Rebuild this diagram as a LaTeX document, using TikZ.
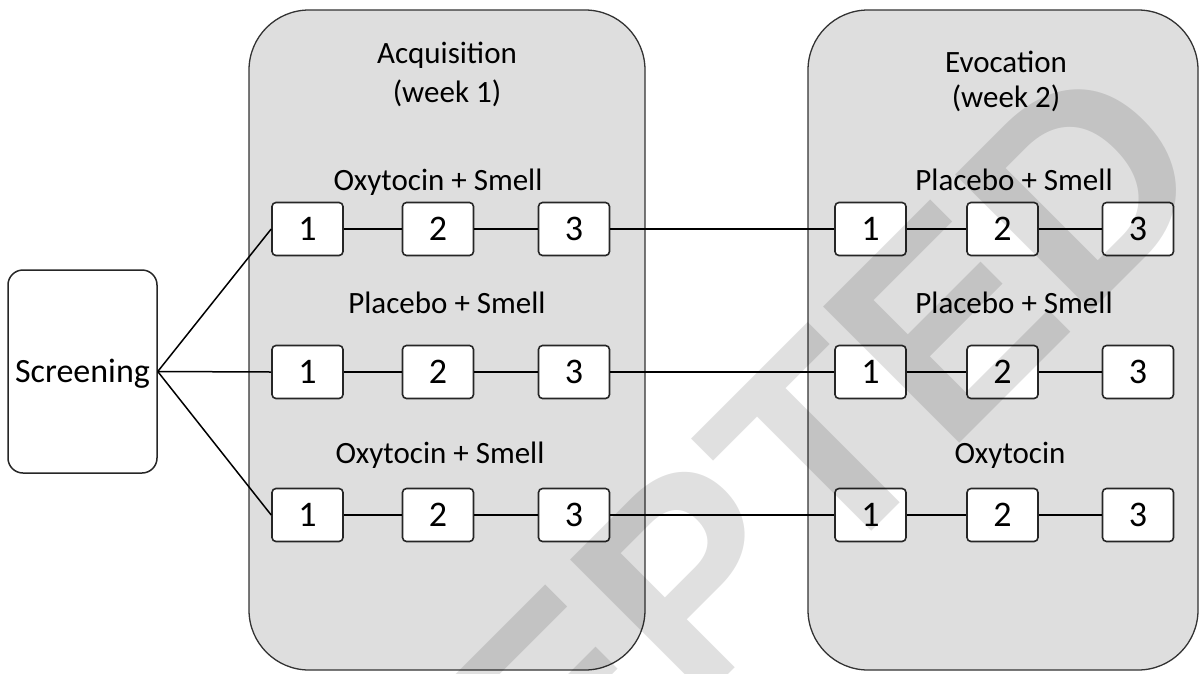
\documentclass[tikz,border=0pt]{standalone}
\usepackage{fontspec}
\setmainfont{Carlito}
\newfontfamily\wmfont{Liberation Sans}
\begin{document}
\begin{tikzpicture}[x=1pt,y=-1pt,
  phase/.style={draw=black!80, line width=1.3pt, fill=black!13, rounded corners=60pt, inner sep=0pt},
  screenbox/.style={draw=black!85, line width=1.5pt, fill=white, rounded corners=15pt, inner sep=0pt, minimum width=149pt, minimum height=203pt, font=\fontsize{34}{40}\selectfont, text height=21.9pt, text depth=0pt},
  sess/.style={draw=black!85, line width=1.6pt, fill=white, rounded corners=4pt, minimum width=71pt, minimum height=53pt, inner sep=0pt, font=\fontsize{36}{40}\selectfont, text height=22.8pt, text depth=0pt},
  lbl/.style={font=\fontsize{31}{36}\selectfont, inner sep=0pt, anchor=base},
  conn/.style={line width=1.5pt, draw=black}]
\useasboundingbox (0,0) rectangle (1199,673);
\clip (0,0) rectangle (1199,673);
\fill[white] (0,0) rectangle (1199,673);

% phase panels
\node[phase, minimum width=396pt, minimum height=660pt] (acq) at (447,340) {};
\node[phase, minimum width=390pt, minimum height=660pt] (evo) at (1003,340) {};

% titles
\node[lbl] (acqT) at (447,63) {Acquisition};
\node[lbl] (acqW) at (447,102) {(week 1)};
\node[lbl] (evoT) at (1006,72) {Evocation};
\node[lbl] (evoW) at (1006,107) {(week 2)};

% row labels
\node[lbl] (aL1) at (438,190) {Oxytocin + Smell};
\node[lbl] (aL2) at (447,313) {Placebo + Smell};
\node[lbl] (aL3) at (440,463) {Oxytocin + Smell};
\node[lbl] (eL1) at (1014,190) {Placebo + Smell};
\node[lbl] (eL2) at (1014,313) {Placebo + Smell};
\node[lbl] (eL3) at (1010,463) {Oxytocin};

% screening
\node[screenbox] (scr) at (82.5,371.5) {Screening};

% sessions
\foreach \r/\y in {1/229,2/372,3/515}{
  \node[sess] (a\r1) at (307.5,\y) {1};
  \node[sess] (a\r2) at (438,\y) {2};
  \node[sess] (a\r3) at (574,\y) {3};
  \node[sess] (e\r1) at (870.5,\y) {1};
  \node[sess] (e\r2) at (1002.5,\y) {2};
  \node[sess] (e\r3) at (1138,\y) {3};
}

% connectors
\foreach \r in {1,2,3}{
  \draw[conn] (scr.east) -- (a\r1.west);
  \draw[conn] (a\r1) -- (a\r2);
  \draw[conn] (a\r2) -- (a\r3);
  \draw[conn] (a\r3) -- (e\r1);
  \draw[conn] (e\r1) -- (e\r2);
  \draw[conn] (e\r2) -- (e\r3);
}

% watermark
\node[font=\fontsize{280}{280}\selectfont\wmfont\bfseries, text=black, text opacity=0.12, rotate=45, inner sep=0pt] (wm) at (609,658) {ACCEPTED};
\end{tikzpicture}
\end{document}
